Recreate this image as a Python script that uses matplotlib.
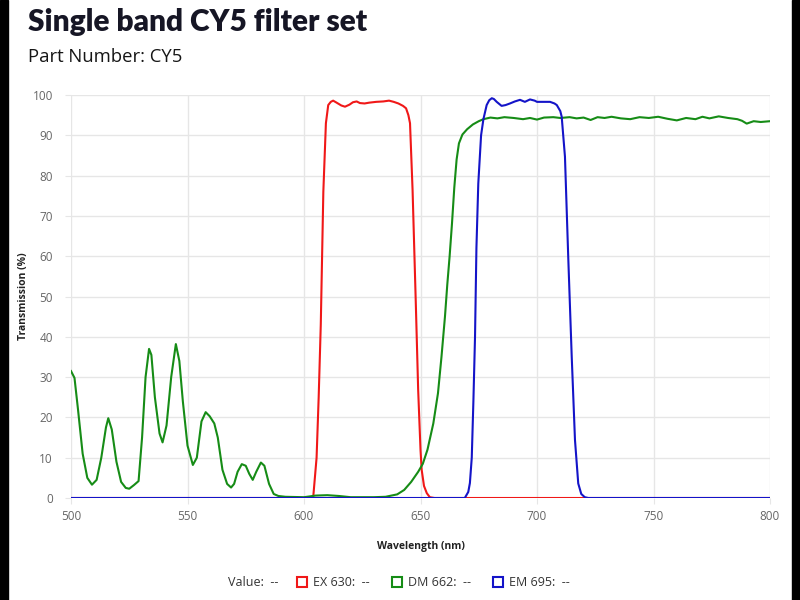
import numpy as np
import matplotlib
matplotlib.use("Agg")
import matplotlib.pyplot as plt
from matplotlib.patches import Rectangle

plt.rcParams['font.family'] = ['Open Sans', 'DejaVu Sans']

# EX 630 excitation filter
ex_wl = [500, 603, 604, 605.4, 606.3, 607.2, 608.3, 609.4, 610.4, 611.5, 612.5, 614, 616, 617.6,
         619.5, 621, 622.6, 624, 626, 628, 631, 634, 636.5, 638.5, 640.5, 642.5, 643.8, 644.8,
         645.5, 646.6, 648, 649, 650, 650.5, 651.5, 652.7, 654, 656, 800]
ex_t = [0, 0, 0.5, 10, 25, 43, 76, 93, 97.5, 98.3, 98.6, 98.1, 97.4, 97.1,
        97.6, 98.2, 98.4, 98.0, 97.9, 98.1, 98.3, 98.4, 98.6, 98.3, 97.9, 97.3, 96.7, 95,
        93, 76.4, 48, 26.8, 12, 7, 3, 1.2, 0.2, 0, 0]

# DM 662 dichroic mirror
dm_wl = [500, 501.5, 503, 505, 507, 509, 511, 513, 515, 516, 517.5, 519.5, 521.5, 523.5, 525,
         527, 529, 530.5, 532, 533.5, 534.5, 536, 538, 539.3, 541, 543, 545, 546.5, 548, 550,
         552.3, 554, 556, 557.8, 559.5, 561.5, 563, 565, 567, 568.7, 570, 571.5, 573.3, 575,
         576.5, 578, 579.5, 581.5, 583, 585, 587, 589, 592, 600, 605, 610, 615, 620, 630, 635,
         640, 643, 646, 649, 651, 653, 655.5, 657.5, 659, 660.5, 661.5, 662.5, 663.5, 664.5,
         665.5, 666.5, 668, 670, 672.5, 675, 677, 680, 683, 686, 690, 694, 697, 700, 703, 707,
         710, 714, 717, 720, 723, 726, 729, 732, 736, 740, 744, 748, 752, 756, 760, 764, 768,
         771, 774, 778, 782, 786, 788, 790, 793, 796, 800]
dm_t = [31.5, 29.8, 22, 11, 5, 3.3, 4.5, 10, 17.5, 19.8, 17, 9, 4, 2.5, 2.3,
        3.2, 4.2, 15, 30, 37, 35.5, 25, 16, 13.8, 18, 30, 38.2, 34, 24, 13,
        8.2, 10, 19, 21.3, 20.3, 18.5, 15, 7, 3.5, 2.6, 3.5, 6.5, 8.4, 8,
        6, 4.5, 6.5, 8.8, 8, 3.5, 1, 0.5, 0.3, 0.2, 0.6, 0.7, 0.5, 0.2, 0.2, 0.3,
        0.9, 2, 4, 6.5, 8.5, 12, 18.5, 26, 35, 45, 53, 60, 68, 77,
        84, 88, 90.2, 91.5, 92.7, 93.5, 94, 94.4, 94.2, 94.5, 94.3, 94.0, 94.3, 93.9, 94.4, 94.5,
        94.3, 94.5, 94.2, 94.4, 93.8, 94.5, 94.3, 94.6, 94.2, 94.0, 94.5, 94.3, 94.6, 94.1, 93.7, 94.3, 94.0,
        94.6, 94.2, 94.7, 94.3, 94.0, 93.6, 92.9, 93.5, 93.3, 93.5]

# EM 695 emission filter
em_wl = [500, 669, 670.5, 671.2, 672, 672.7, 673.4, 674, 674.8, 676, 677, 678.4, 679.5, 680.6,
         681.5, 682.7, 684.8, 686.5, 688.4, 690.5, 692.7, 694.8, 697, 699, 700, 703, 705.6,
         707.5, 708.5, 710, 710.6, 712, 713.4, 714.9, 716.3, 717.7, 719, 720.5, 722, 800]
em_t = [0, 0, 1.5, 3.7, 10, 24, 40, 62, 78, 90, 94, 97.5, 98.7, 99.2,
        99.0, 98.3, 97.3, 97.5, 97.9, 98.4, 98.8, 98.3, 98.9, 98.6, 98.3, 98.3, 98.3,
        97.9, 97.5, 96, 94.6, 84.7, 59.9, 35.1, 14.4, 3.6, 1, 0.2, 0, 0]

names = ["EX 630", "DM 662", "EM 695"]
colors = ["#f01818", "#168c16", "#1414c8"]

W, H = 800, 600

def fx(x):
    return x / W

def fy(y):
    return 1 - y / H

fig = plt.figure(figsize=(8, 6), dpi=100)
fig.patch.set_facecolor("white")
ax = fig.add_axes([fx(71), fy(498), fx(770) - fx(71), fy(95) - fy(498)])

grid_c = "#e6e6e6"
ax.plot(ex_wl, ex_t, color=colors[0], lw=1.5)
ax.plot(dm_wl, dm_t, color=colors[1], lw=1.5)
ax.plot(em_wl, em_t, color=colors[2], lw=1.5)

ax.set_xlim(500, 800)
ax.set_ylim(0, 100)
ax.set_xticks(np.arange(500, 801, 50))
ax.set_yticks(np.arange(0, 101, 10))
ax.grid(True, color=grid_c, lw=1)
ax.set_axisbelow(True)
for s in ax.spines.values():
    s.set_visible(False)
ax.tick_params(axis="both", colors=grid_c, labelcolor="#666666", labelsize=8.5, length=4)
ax.tick_params(axis="y", pad=9)
ax.tick_params(axis="x", pad=5)

ax.set_ylabel("Transmission (%)", fontsize=7.5, fontweight="bold", color="#222222")
ax.yaxis.set_label_coords((29 - 71) / 699, 0.5)
ax.set_xlabel("Wavelength (nm)", fontsize=7.5, fontweight="bold", color="#222222")
ax.xaxis.set_label_coords(0.5, (498 - 541) / 403)

fig.text(fx(28), fy(22), "Single band CY5 filter set", fontsize=21.5, fontweight="heavy",
         family="Lato", color="#161625", ha="left", va="center")
fig.text(fx(28), fy(57), "Part Number: CY5", fontsize=13.3,
         color="#161616", ha="left", va="center")

# bottom value bar
ly = 582
fig.text(fx(228), fy(ly), "Value:  --", fontsize=9, color="#333333", ha="left", va="center")
box_x = [297, 392, 493]
for name, c, bx in zip(names, colors, box_x):
    fig.patches.append(Rectangle((fx(bx), fy(ly + 5)), fx(10), 10 / H, transform=fig.transFigure,
                                 fill=False, edgecolor=c, lw=1.5))
    fig.text(fx(bx + 16), fy(ly), name + ":  --", fontsize=9, color="#333333",
             ha="left", va="center")

# dark strips at the screenshot edges
fig.patches.append(Rectangle((0, 0), fx(8), 1, transform=fig.transFigure, color="black"))
fig.patches.append(Rectangle((fx(792), 0), fx(8), 1, transform=fig.transFigure, color="black"))

plt.savefig("out.png", dpi=100)
